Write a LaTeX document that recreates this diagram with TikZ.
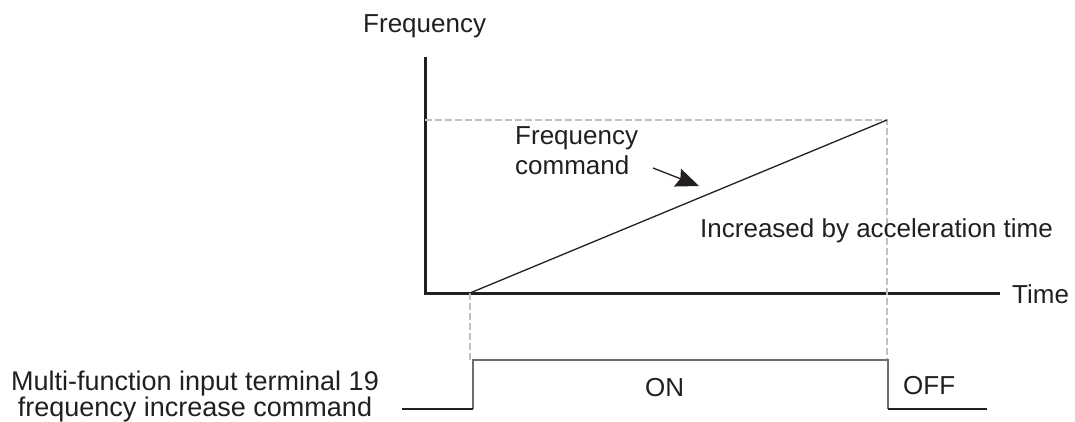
\documentclass[tikz,border=0pt]{standalone}
\usepackage{fontspec}
\setmainfont{Liberation Sans}
\usetikzlibrary{arrows.meta}
\definecolor{guide}{RGB}{192,192,192}
\definecolor{sig}{RGB}{110,110,110}
\definecolor{ink}{RGB}{35,31,32}

\begin{document}
\begin{tikzpicture}[x=1pt, y=-1pt, ink,
  every node/.style={inner sep=0pt, text=ink, font=\fontsize{26}{30}\selectfont},
  lbl/.style={anchor=base west},
  axis/.style={line width=3pt},
  guide/.style={draw=guide, line width=1.5pt, dash pattern=on 7pt off 3pt},
  ramp/.style={line width=1.3pt},
  sig/.style={draw=sig, line width=1.5pt},
  low/.style={line width=1.5pt},
  a/.style={-{Stealth[length=23pt, width=19pt, inset=3pt]}, line width=1.3pt}]
\useasboundingbox (0,0) rectangle (1075,421);
% axes
\coordinate (o) at (425,293);
\coordinate (ytop) at (425,57);
\coordinate (xend) at (1000,293);
\node[lbl] (flbl) at (363,32) {Frequency};
\node[lbl] (tlbl) at (1012,303) {Time};
\draw[axis] (ytop) -- (o) -- (xend);
% ramp and guides
\coordinate (fmax) at (425,120);
\coordinate (r0) at (470,293);
\coordinate (r1) at (887,120);
\coordinate (g0) at (470,361);
\coordinate (g1) at (887,361);
\draw[guide] (fmax) -- (r1) -- (g1);
\draw[guide] (r0) -- (g0);
\draw[ramp] (r0) -- (r1);
\node[anchor=north west, align=left] (cmd) at (515,126) {Frequency\\command};
\coordinate (a0) at (653,168);
\coordinate (a1) at (699,186);
\draw[a] (a0) -- (a1);
\node[lbl] (acc) at (700,237) {Increased by acceleration time};
% input signal
\coordinate (p0) at (402,409);
\coordinate (p1) at (473,409);
\coordinate (p2) at (473,360);
\coordinate (p3) at (888,360);
\coordinate (p4) at (888,409);
\coordinate (p5) at (987,409);
\draw[sig] (p1) -- (p2) -- (p3) -- (p4);
\draw[low] (p0) -- (p1);
\draw[low] (p4) -- (p5);
\node[lbl] (on) at (645,396) {ON};
\node[lbl] (off) at (903,394) {OFF};
\node[anchor=north, align=center, font=\fontsize{27}{22}\selectfont] (term) at (195,371)
  {Multi-function input terminal 19\\frequency increase command};
\end{tikzpicture}
\end{document}
